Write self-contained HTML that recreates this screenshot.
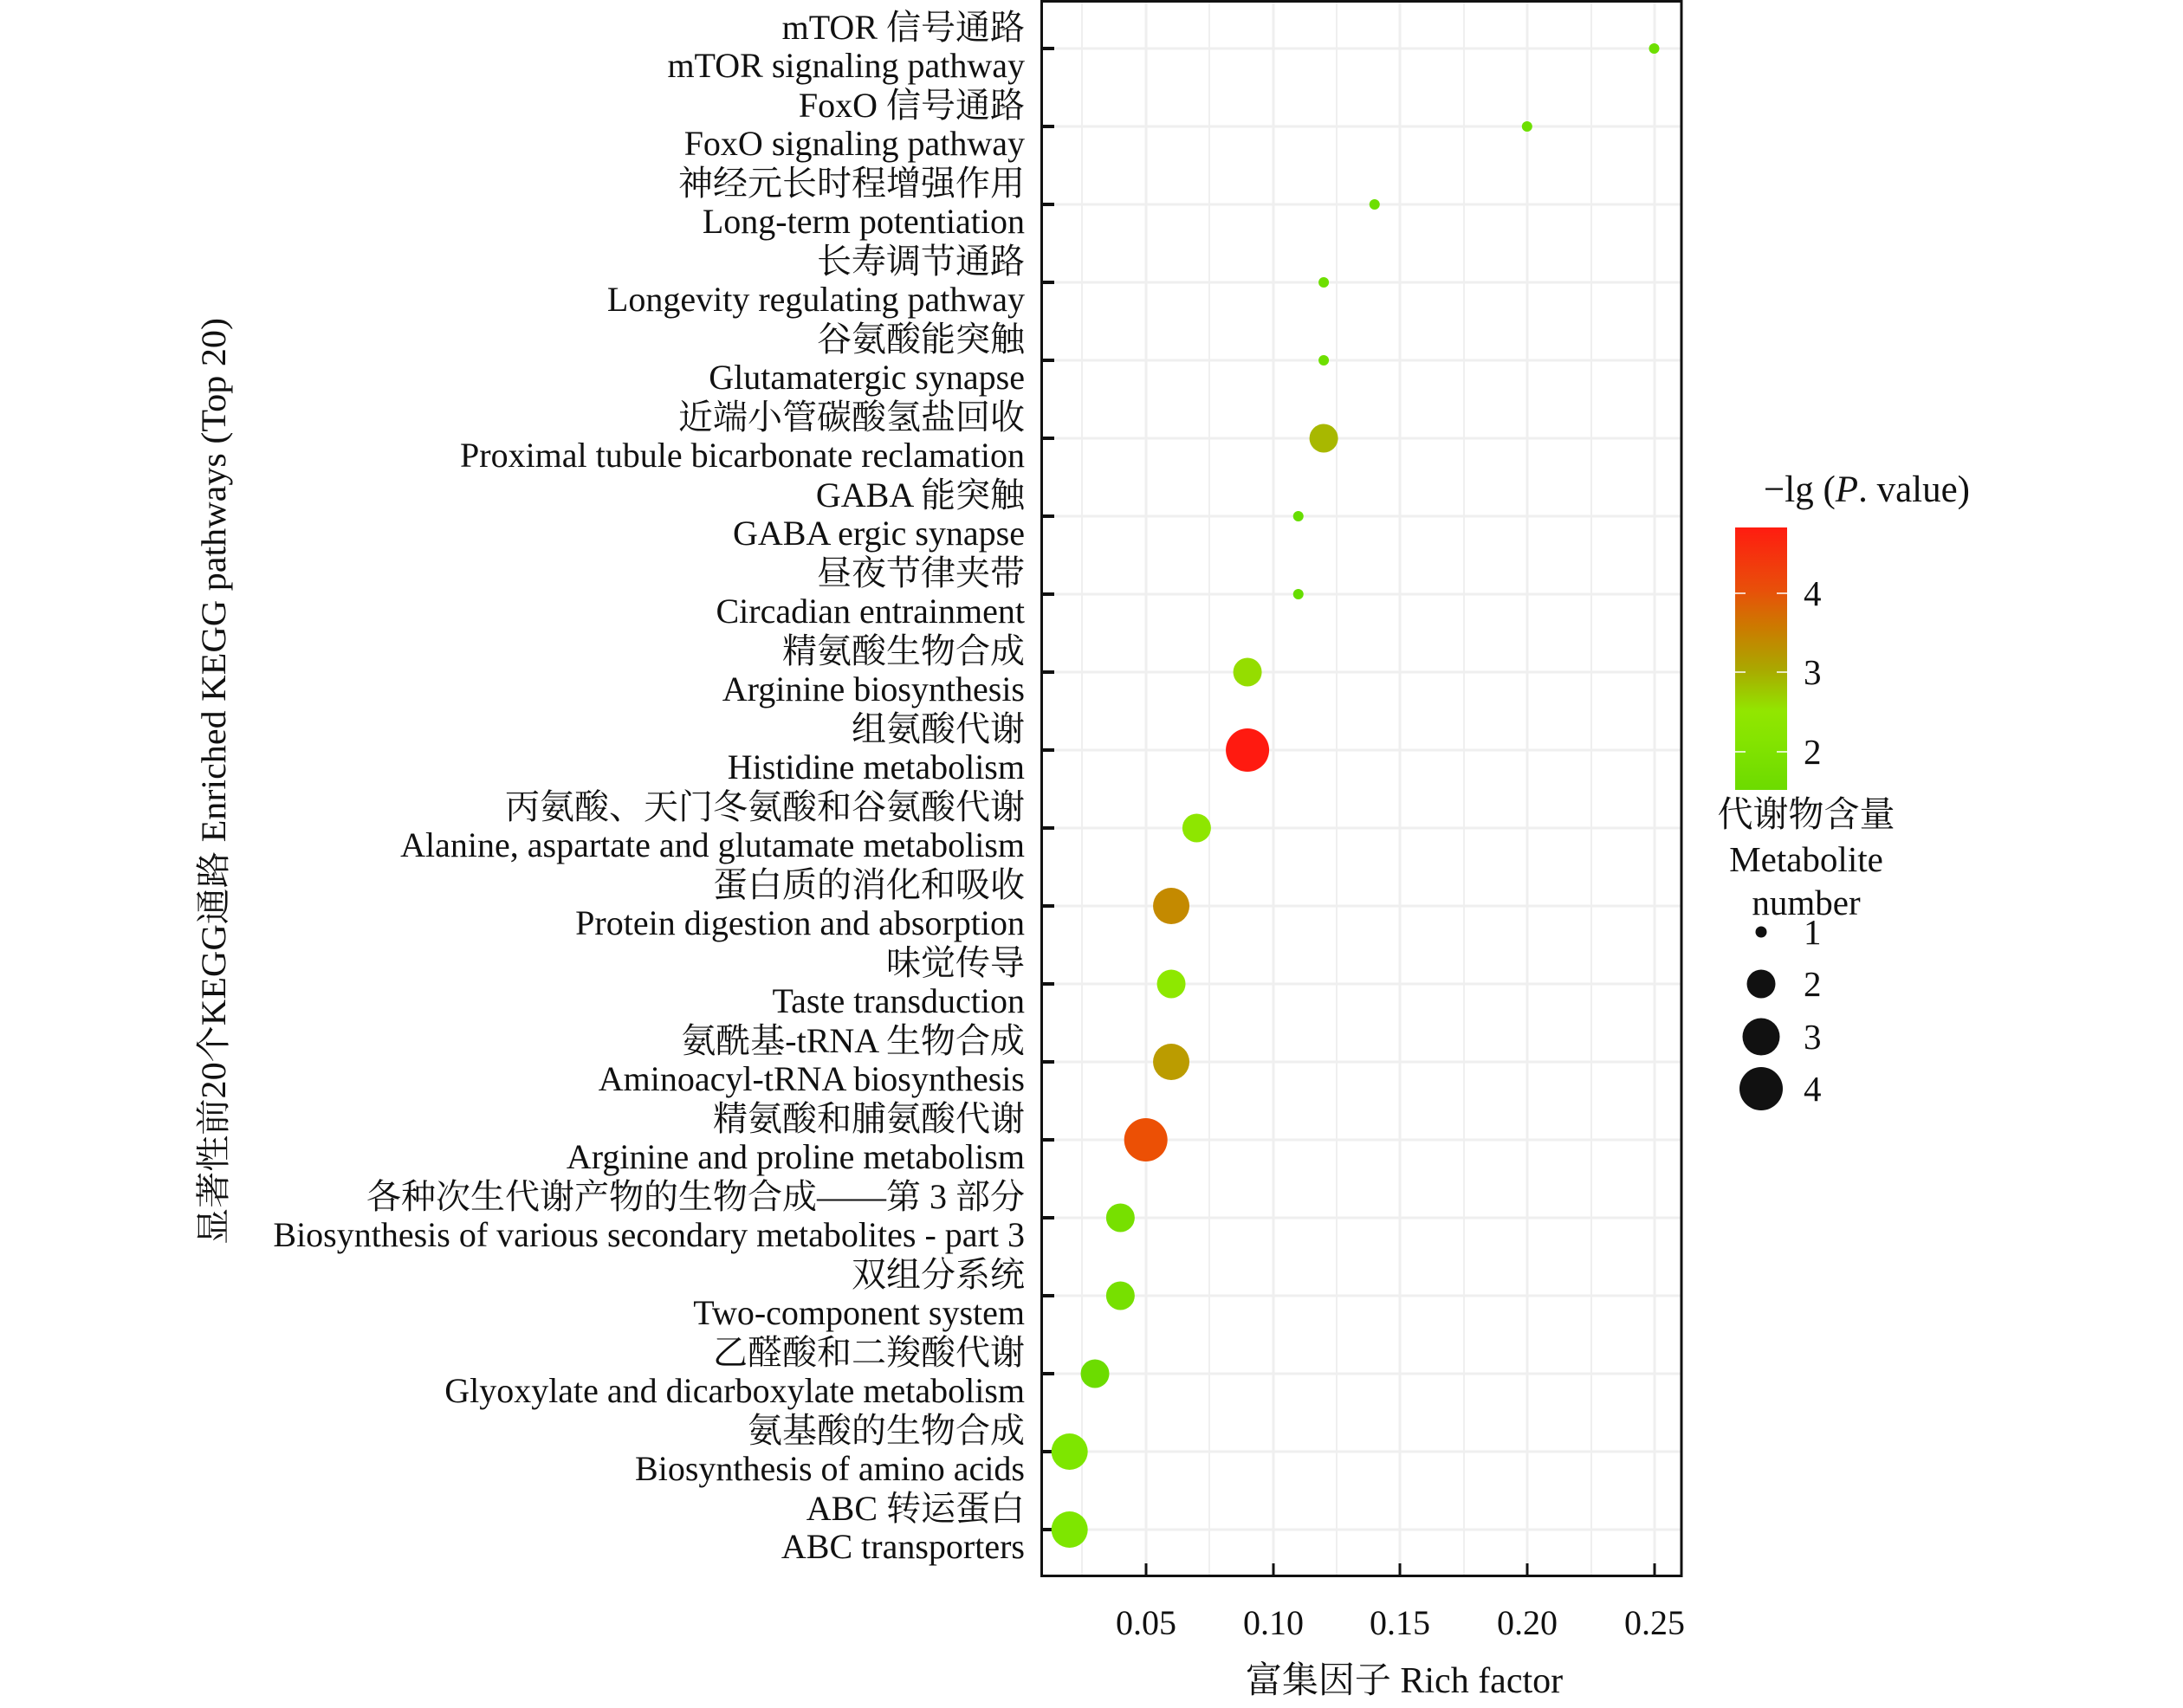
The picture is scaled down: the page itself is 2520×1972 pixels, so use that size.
<!DOCTYPE html>
<html><head><meta charset="utf-8"><style>
html,body{margin:0;padding:0;background:#fff;}
svg{display:block;}
text{font-family:"Liberation Serif","Noto Serif CJK SC",serif;fill:#111;}
</style></head><body>
<svg width="2520" height="1972" viewBox="0 0 2520 1972" xmlns="http://www.w3.org/2000/svg">
<defs>
<linearGradient id="cb" x1="0" y1="1" x2="0" y2="0">
<stop offset="0" stop-color="#6cdb00"/>
<stop offset="0.2" stop-color="#86e400"/>
<stop offset="0.3" stop-color="#92e600"/>
<stop offset="0.46" stop-color="#aaa800"/>
<stop offset="0.62" stop-color="#cc7a00"/>
<stop offset="0.76" stop-color="#e8500a"/>
<stop offset="1" stop-color="#ff1c10"/>
</linearGradient>
</defs>
<g stroke="#efefef">
<g stroke-width="2">
<line x1="1249" y1="2" x2="1249" y2="1820"/>
<line x1="1396" y1="2" x2="1396" y2="1820"/>
<line x1="1543" y1="2" x2="1543" y2="1820"/>
<line x1="1690" y1="2" x2="1690" y2="1820"/>
<line x1="1837" y1="2" x2="1837" y2="1820"/>
</g>
<g stroke-width="3">
<line x1="1323" y1="2" x2="1323" y2="1820"/>
<line x1="1470" y1="2" x2="1470" y2="1820"/>
<line x1="1616" y1="2" x2="1616" y2="1820"/>
<line x1="1763" y1="2" x2="1763" y2="1820"/>
<line x1="1910" y1="2" x2="1910" y2="1820"/>
</g>
<g stroke-width="3" id="hg"></g>
</g>
<g id="rows"></g>
<rect x="1202.5" y="1.5" width="738.5" height="1818" fill="none" stroke="#111" stroke-width="3"/>
<g stroke="#111" stroke-width="3">
<line x1="1323" y1="1805" x2="1323" y2="1820"/>
<line x1="1470" y1="1805" x2="1470" y2="1820"/>
<line x1="1616" y1="1805" x2="1616" y2="1820"/>
<line x1="1763" y1="1805" x2="1763" y2="1820"/>
<line x1="1910" y1="1805" x2="1910" y2="1820"/>
</g>
<g font-size="40" text-anchor="middle">
<text x="1323" y="1887">0.05</text>
<text x="1470" y="1887">0.10</text>
<text x="1616" y="1887">0.15</text>
<text x="1763" y="1887">0.20</text>
<text x="1910" y="1887">0.25</text>
<text x="1621" y="1954" font-size="42">富集因子 Rich factor</text>
</g>
<text transform="translate(260,902) rotate(-90)" font-size="40" text-anchor="middle" textLength="1070" lengthAdjust="spacingAndGlyphs">显著性前20个KEGG通路 Enriched KEGG pathways (Top 20)</text>
<text x="2155" y="579" font-size="43" text-anchor="middle">−lg (<tspan font-style="italic">P</tspan>. value)</text>
<rect x="2003" y="609" width="60" height="303" fill="url(#cb)"/>
<g stroke="#fff" stroke-width="1.5">
<line x1="2003" y1="685" x2="2015" y2="685"/><line x1="2051" y1="685" x2="2063" y2="685"/>
<line x1="2003" y1="776" x2="2015" y2="776"/><line x1="2051" y1="776" x2="2063" y2="776"/>
<line x1="2003" y1="868" x2="2015" y2="868"/><line x1="2051" y1="868" x2="2063" y2="868"/>
</g>
<g font-size="41">
<text x="2082" y="699">4</text>
<text x="2082" y="790">3</text>
<text x="2082" y="882">2</text>
<text x="2085" y="954" text-anchor="middle">代谢物含量</text>
<text x="2085" y="1006" text-anchor="middle">Metabolite</text>
<text x="2085" y="1056" text-anchor="middle">number</text>
<text x="2082" y="1090">1</text>
<text x="2082" y="1150">2</text>
<text x="2082" y="1211">3</text>
<text x="2082" y="1271">4</text>
</g>
<g fill="#111">
<circle cx="2033" cy="1076" r="6.5"/>
<circle cx="2033" cy="1136" r="16.5"/>
<circle cx="2033" cy="1197" r="21.5"/>
<circle cx="2033" cy="1257" r="25"/>
</g>
<script>
(function(){
var d=[
["mTOR 信号通路","mTOR signaling pathway",0.25,12,"#6ddf00"],
["FoxO 信号通路","FoxO signaling pathway",0.20,12,"#6ddf00"],
["神经元长时程增强作用","Long-term potentiation",0.14,12,"#6ddf00"],
["长寿调节通路","Longevity regulating pathway",0.12,12,"#6ddf00"],
["谷氨酸能突触","Glutamatergic synapse",0.12,12,"#6ddf00"],
["近端小管碳酸氢盐回收","Proximal tubule bicarbonate reclamation",0.12,33,"#a8b800"],
["GABA 能突触","GABA ergic synapse",0.11,12,"#66dd00"],
["昼夜节律夹带","Circadian entrainment",0.11,12,"#66dd00"],
["精氨酸生物合成","Arginine biosynthesis",0.09,33,"#95dd00"],
["组氨酸代谢","Histidine metabolism",0.09,50,"#ff1a10"],
["丙氨酸、天门冬氨酸和谷氨酸代谢","Alanine, aspartate and glutamate metabolism",0.07,33,"#8ee600"],
["蛋白质的消化和吸收","Protein digestion and absorption",0.06,42,"#c48a00"],
["味觉传导","Taste transduction",0.06,33,"#8ee800"],
["氨酰基-tRNA 生物合成","Aminoacyl-tRNA biosynthesis",0.06,42,"#bb9c00"],
["精氨酸和脯氨酸代谢","Arginine and proline metabolism",0.05,50,"#ec5005"],
["各种次生代谢产物的生物合成——第 3 部分","Biosynthesis of various secondary metabolites - part 3",0.04,33,"#77e000"],
["双组分系统","Two-component system",0.04,33,"#77e000"],
["乙醛酸和二羧酸代谢","Glyoxylate and dicarboxylate metabolism",0.03,33,"#6cdc00"],
["氨基酸的生物合成","Biosynthesis of amino acids",0.02,42,"#7ee600"],
["ABC 转运蛋白","ABC transporters",0.02,42,"#7ee600"]];
var NS="http://www.w3.org/2000/svg",g=document.getElementById("rows"),hg=document.getElementById("hg");
function el(n,a,p,t){var e=document.createElementNS(NS,n);for(var k in a)e.setAttribute(k,a[k]);if(t)e.textContent=t;p.appendChild(e);return e;}
d.forEach(function(r,i){var y=56+90*i;
el("line",{x1:1203,y1:y,x2:1941,y2:y},hg);
el("line",{x1:1203,y1:y,x2:1217,y2:y,stroke:"#111","stroke-width":4},g);
el("text",{x:1183,y:y-11,"font-size":40,"text-anchor":"end"},g,r[0]);
el("text",{x:1183,y:y+33,"font-size":40,"text-anchor":"end"},g,r[1]);
el("circle",{cx:1176+r[2]*2934,cy:y,r:r[3]/2,fill:r[4]},g);
});})();
</script>
</svg>
</body></html>
